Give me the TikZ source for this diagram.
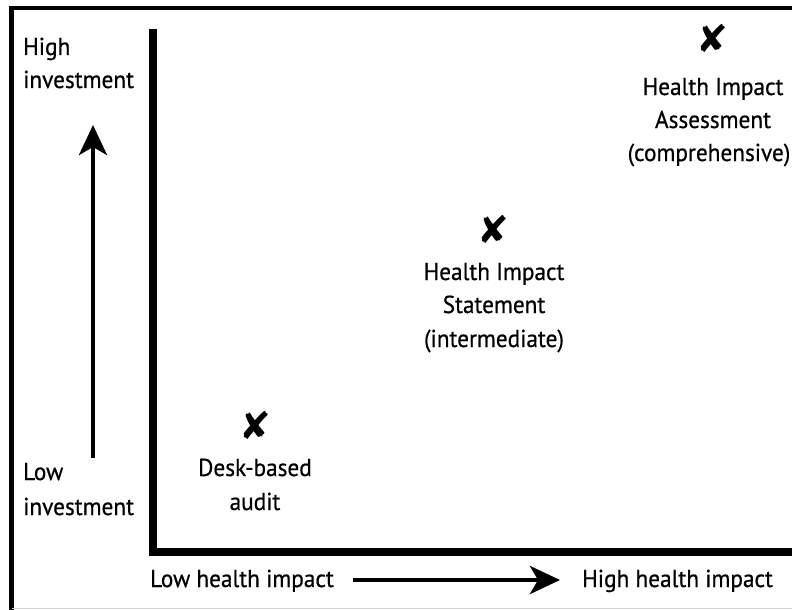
\documentclass[tikz,border=0pt]{standalone}
\usepackage{fontspec}
\setmainfont{PT Sans}[FakeStretch=0.95, FakeBold=0.6]
\newfontfamily\symfont{DejaVu Sans}
\usetikzlibrary{arrows.meta}
\begin{document}
\begin{tikzpicture}[x=1pt,y=-1pt,
  lbl/.style={inner sep=0pt, anchor=base, font=\fontsize{24.5}{30}\selectfont},
  lblw/.style={lbl, anchor=base west},
  xmark/.style={inner sep=0pt, font=\symfont\fontsize{38}{38}\selectfont},
  axisline/.style={line width=7.5pt},
  frameline/.style={line width=4.5pt},
  dirarrow/.style={line width=4.5pt, -{Stealth[length=30pt,width=28pt,inset=8pt]}}]
\useasboundingbox (0,0) rectangle (792,610);
\fill[white] (0,0) rectangle (792,610);
% frame
\coordinate (fbl) at (11.5,610);
\coordinate (ftl) at (11.5,8);
\coordinate (ftr) at (792,8);
\draw[frameline] (fbl) -- (ftl) -- (ftr);
\coordinate (gbl) at (11.5,608.5);
\coordinate (gbr) at (792,608.5);
\draw[gray!35, line width=1pt] (gbl) -- (gbr);
% axes
\coordinate (ytop) at (153,29);
\coordinate (origin) at (153,552);
\coordinate (xend) at (792,552);
\draw[axisline] (ytop) -- (origin) -- (xend);
% direction arrows
\coordinate (upS) at (93,458);
\coordinate (upE) at (93,125);
\draw[dirarrow] (upS) -- (upE);
\coordinate (rtS) at (353,580);
\coordinate (rtE) at (560,580);
\draw[dirarrow] (rtS) -- (rtE);
% axis labels
\node[lblw] (hi1) at (23,55) {High};
\node[lblw] (hi2) at (23,88) {investment};
\node[lblw] (lo1) at (23,480) {Low};
\node[lblw] (lo2) at (23,515) {investment};
\node[lblw] (lhi) at (150,587) {Low health impact};
\node[lblw] (hhi) at (582,587) {High health impact};
% points
\node[xmark] (xa) at (255,425) {✘};
\node[lbl] (a1) at (255,476) {Desk-based};
\node[lbl] (a2) at (255,510) {audit};
\node[xmark] (xb) at (493,229) {✘};
\node[lbl] (b1) at (494,280) {Health Impact};
\node[lbl] (b2) at (494,313) {Statement};
\node[lbl] (b3) at (494,347) {(intermediate)};
\node[xmark] (xc) at (712,38) {✘};
\node[lbl] (c1) at (713,95) {Health Impact};
\node[lbl] (c2) at (713,128) {Assessment};
\node[lbl] (c3) at (709,161) {(comprehensive)};
\end{tikzpicture}
\end{document}
